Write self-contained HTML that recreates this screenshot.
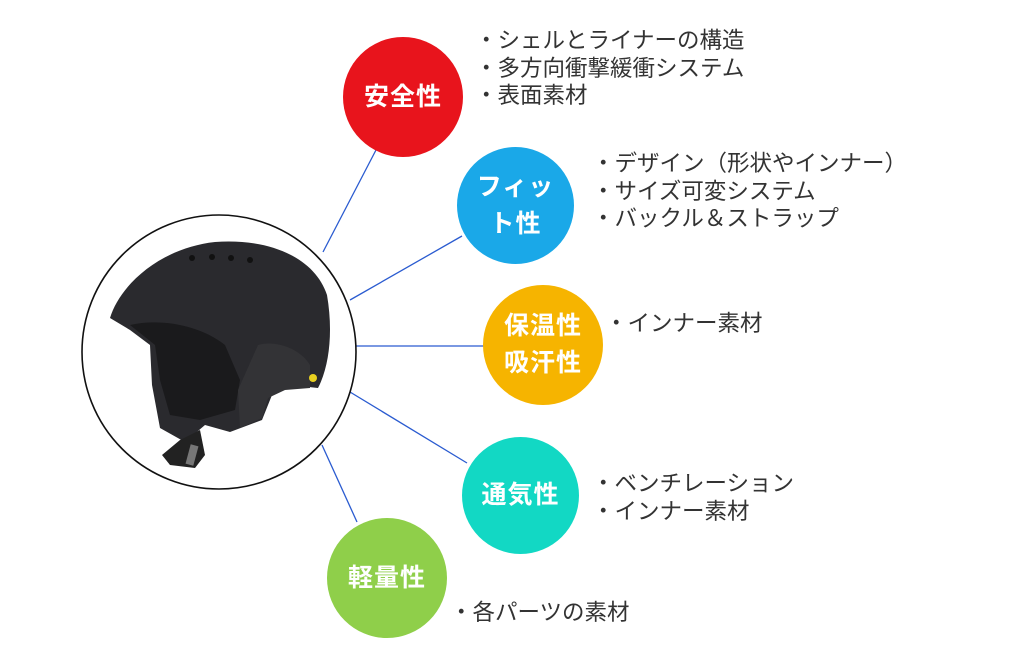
<!DOCTYPE html>
<html><head><meta charset="utf-8"><style>
body{margin:0;width:1024px;height:663px;background:#fff;overflow:hidden;position:relative;font-family:"Liberation Sans","Noto Sans CJK JP",sans-serif;}
svg{position:absolute;left:0;top:0}
.c{position:absolute;border-radius:50%;color:#fff;font-weight:bold;font-size:25px;display:flex;align-items:center;justify-content:center;text-align:center;line-height:37px;letter-spacing:1px}
.t{position:absolute;font-size:22.5px;color:#333;line-height:27.5px;white-space:nowrap}
</style></head><body>
<svg width="1024" height="663">
<g stroke="#2a5bd0" stroke-width="1.3">
<line x1="376" y1="150" x2="323" y2="252"/>
<line x1="462" y1="236" x2="350" y2="300"/>
<line x1="484" y1="346" x2="356" y2="346"/>
<line x1="467" y1="463" x2="350" y2="392"/>
<line x1="357" y1="522" x2="322" y2="445"/>
</g>
<circle cx="219" cy="352" r="137" fill="#fff" stroke="#111" stroke-width="1.6"/>
<path d="M110,318 C120,285 160,248 215,242 C270,238 315,258 327,295 C333,330 330,365 318,388 L290,385 L272,395 L262,420 L230,432 L205,425 L185,442 L160,428 L152,385 L150,345 L130,330 Z" fill="#2a2a2e"/>
<path d="M130,325 C160,318 200,325 225,345 L240,380 L235,410 L200,420 L170,415 L160,380 L155,345 Z" fill="#1a1a1c"/>
<path d="M258,345 C275,340 300,348 310,365 L310,388 L285,390 L268,398 L262,418 L240,428 L238,390 Z" fill="#333336"/>
<path d="M180,440 L200,430 L205,455 L195,468 L170,465 L162,455 Z" fill="#222"/>
<rect x="188" y="445" width="8" height="20" fill="#777" transform="rotate(15 192 455)"/>
<circle cx="313" cy="378" r="4" fill="#e8d020"/>
<g fill="#111"><circle cx="192" cy="258" r="3"/><circle cx="212" cy="257" r="3"/><circle cx="231" cy="258" r="3"/><circle cx="250" cy="260" r="3"/></g>
</svg>
<div class="c" style="left:343px;top:37px;width:120px;height:120px;background:#e8141c">安全性</div>
<div class="c" style="left:457px;top:147px;width:117px;height:117px;background:#1aa8e8">フィッ<br>ト性</div>
<div class="c" style="left:483px;top:285px;width:120px;height:120px;background:#f6b400">保温性<br>吸汗性</div>
<div class="c" style="left:462px;top:437px;width:117px;height:117px;background:#12d8c4">通気性</div>
<div class="c" style="left:327px;top:518px;width:120px;height:120px;background:#8fcf4a">軽量性</div>
<div class="t" style="left:475px;top:27px">・シェルとライナーの構造<br>・多方向衝撃緩衝システム<br>・表面素材</div>
<div class="t" style="left:592px;top:150px">・デザイン（形状やインナー）<br>・サイズ可変システム<br>・バックル＆ストラップ</div>
<div class="t" style="left:605px;top:310px">・インナー素材</div>
<div class="t" style="left:592px;top:470px">・ベンチレーション<br>・インナー素材</div>
<div class="t" style="left:450px;top:599px">・各パーツの素材</div>
</body></html>
